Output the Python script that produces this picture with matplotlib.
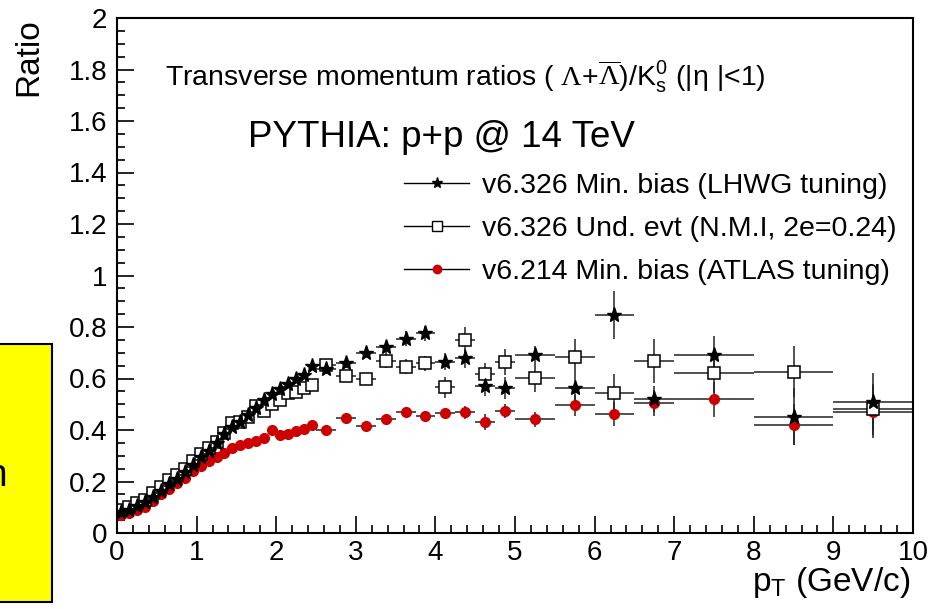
import matplotlib
matplotlib.use('Agg')
import matplotlib.pyplot as plt
from matplotlib.patches import Rectangle
from matplotlib.lines import Line2D
from matplotlib.ticker import MultipleLocator

plt.rcParams['font.family'] = ['Liberation Sans', 'DejaVu Sans']
plt.rcParams['mathtext.fontset'] = 'custom'
plt.rcParams['mathtext.rm'] = 'Liberation Serif'
plt.rcParams['mathtext.sf'] = 'Liberation Sans'
plt.rcParams['mathtext.it'] = 'Liberation Sans:italic'

# ---------------- data ----------------
pt = [0.05, 0.15, 0.25, 0.35, 0.45, 0.55, 0.65, 0.75, 0.85, 0.95,
      1.05, 1.15, 1.25, 1.35, 1.45, 1.55, 1.65, 1.75, 1.85, 1.95,
      2.05, 2.15, 2.25, 2.35, 2.45,
      2.625, 2.875, 3.125, 3.375, 3.625, 3.875, 4.125, 4.375, 4.625, 4.875,
      5.25, 5.75, 6.25, 6.75, 7.5, 8.5, 9.5]
pt_halfwidth = [0.05, 0.05, 0.05, 0.05, 0.05, 0.05, 0.05, 0.05, 0.05, 0.05,
                0.05, 0.05, 0.05, 0.05, 0.05, 0.05, 0.05, 0.05, 0.05, 0.05,
                0.05, 0.05, 0.05, 0.05, 0.05,
                0.125, 0.125, 0.125, 0.125, 0.125, 0.125, 0.125, 0.125, 0.125, 0.125,
                0.25, 0.25, 0.25, 0.25, 0.5, 0.5, 0.5]

lhwg = [0.08, 0.09, 0.105, 0.12, 0.14, 0.165, 0.19, 0.21, 0.235, 0.265,
        0.295, 0.32, 0.35, 0.385, 0.41, 0.43, 0.46, 0.485, 0.515, 0.54,
        0.56, 0.58, 0.60, 0.614, 0.648,
        0.635, 0.659, 0.70, 0.722, 0.755, 0.775, 0.665, 0.678, 0.571, 0.562,
        0.691, 0.562, 0.847, 0.519, 0.691, 0.452, 0.51]
lhwg_err = [0.006, 0.006, 0.006, 0.006, 0.007, 0.007, 0.007, 0.008, 0.008, 0.008,
            0.009, 0.009, 0.009, 0.01, 0.01, 0.011, 0.011, 0.012, 0.012, 0.013,
            0.013, 0.014, 0.014, 0.015, 0.016,
            0.018, 0.02, 0.022, 0.025, 0.028, 0.03, 0.033, 0.036, 0.04, 0.042,
            0.036, 0.05, 0.092, 0.05, 0.075, 0.11, 0.11]

und = [0.09, 0.10, 0.115, 0.13, 0.155, 0.18, 0.205, 0.225, 0.25, 0.28,
       0.305, 0.33, 0.355, 0.39, 0.428, 0.432, 0.45, 0.495, 0.475, 0.50,
       0.516, 0.545, 0.549, 0.562, 0.575,
       0.652, 0.61, 0.597, 0.668, 0.646, 0.659, 0.566, 0.75, 0.617, 0.663,
       0.601, 0.685, 0.542, 0.669, 0.623, 0.627, 0.48]
und_err = [0.007, 0.007, 0.007, 0.008, 0.008, 0.008, 0.009, 0.009, 0.01, 0.01,
           0.011, 0.011, 0.012, 0.012, 0.013, 0.013, 0.014, 0.014, 0.015, 0.015,
           0.016, 0.016, 0.017, 0.018, 0.018,
           0.02, 0.022, 0.024, 0.027, 0.03, 0.03, 0.04, 0.05, 0.045, 0.05,
           0.055, 0.07, 0.075, 0.085, 0.08, 0.1, 0.1]

atlas = [0.07, 0.078, 0.088, 0.10, 0.125, 0.15, 0.17, 0.193, 0.215, 0.24,
         0.262, 0.28, 0.295, 0.312, 0.33, 0.342, 0.35, 0.358, 0.368, 0.40,
         0.38, 0.386, 0.397, 0.402, 0.42,
         0.40, 0.445, 0.415, 0.443, 0.469, 0.454, 0.465, 0.469, 0.431, 0.473,
         0.441, 0.496, 0.462, 0.504, 0.519, 0.42, 0.47]
atlas_err = [0.004, 0.004, 0.004, 0.004, 0.004, 0.005, 0.005, 0.005, 0.005, 0.005,
             0.006, 0.006, 0.006, 0.006, 0.007, 0.007, 0.007, 0.007, 0.008, 0.008,
             0.008, 0.009, 0.009, 0.009, 0.01,
             0.012, 0.013, 0.014, 0.016, 0.02, 0.02, 0.022, 0.025, 0.03, 0.028,
             0.03, 0.04, 0.045, 0.05, 0.067, 0.08, 0.1]

labels = ['v6.326 Min. bias (LHWG tuning)',
          'v6.326 Und. evt (N.M.I, 2e=0.24)',
          'v6.214 Min. bias (ATLAS tuning)']

# ---------------- figure ----------------
fig = plt.figure(figsize=(9.45, 6.09), dpi=100)
W, H = 945, 609
ax = fig.add_axes([117 / W, 1 - 533 / H, (913 - 117) / W, (533 - 18) / H])

ebkw = dict(ls='none', ecolor='#222222', elinewidth=1.1, capsize=0, zorder=2)
ax.errorbar(pt, atlas, yerr=atlas_err, xerr=pt_halfwidth, marker='o', ms=7,
            mfc='#cc0000', mec='#cc0000', **ebkw)
ax.errorbar(pt, und, yerr=und_err, xerr=pt_halfwidth, marker='s', ms=8.5,
            mfc='white', mec='black', mew=1.1, **ebkw)
ax.errorbar(pt, lhwg, yerr=lhwg_err, xerr=pt_halfwidth, marker='*', ms=11,
            mfc='black', mec='black', **ebkw)

ax.set_xlim(0, 10)
ax.set_ylim(0, 2)
ax.xaxis.set_major_locator(MultipleLocator(1))
ax.xaxis.set_minor_locator(MultipleLocator(0.2))
ax.yaxis.set_major_locator(MultipleLocator(0.2))
ax.yaxis.set_minor_locator(MultipleLocator(0.05))
ax.set_yticks([0, 0.2, 0.4, 0.6, 0.8, 1, 1.2, 1.4, 1.6, 1.8, 2])
ax.set_yticklabels(['0', '0.2', '0.4', '0.6', '0.8', '1', '1.2', '1.4', '1.6', '1.8', '2'])
ax.tick_params(which='both', direction='in', top=False, right=False,
               labelsize=20, width=1.2, color='black')
ax.tick_params(which='major', length=12)
ax.tick_params(which='minor', length=6)
ax.tick_params(axis='y', pad=7)
ax.tick_params(axis='x', pad=5)
for s in ax.spines.values():
    s.set_linewidth(1.5)
    s.set_color('black')

# legend
handles = [
    Line2D([], [], color='black', lw=1, marker='*', ms=8, mfc='black', mec='black'),
    Line2D([], [], color='black', lw=1, marker='s', ms=7, mfc='white', mec='black'),
    Line2D([], [], color='black', lw=1, marker='o', ms=6, mfc='#cc0000', mec='#cc0000'),
]
fig.legend(handles, labels, loc='upper left', bbox_to_anchor=(404 / W, 1 - 173 / H),
           frameon=False, fontsize=20.5, handlelength=2.3, handletextpad=0.45,
           labelspacing=0.6, borderpad=0, borderaxespad=0)

# texts
fig.text(165 / W, 1 - 77 / H,
         r'Transverse momentum ratios ( $\Lambda$+$\overline{\Lambda}$)/K$_{\mathsf{s}}^{\mathsf{0}}$ (|$\mathsf{\eta}$ |<1)',
         fontsize=20.5, ha='left', va='center')
fig.text(248 / W, 1 - 137 / H, 'PYTHIA: p+p @ 14 TeV', fontsize=26.5, ha='left', va='center')
fig.text(29 / W, 1 - 57 / H, 'Ratio', rotation=90, fontsize=24, ha='center', va='center')
fig.text(910 / W, 1 - 582 / H, r'p$_{\mathsf{T}}$ (GeV/c)', fontsize=24, ha='right', va='center')

# yellow box at left edge
fig.patches.append(Rectangle((-5 / W, 1 - 602 / H), 57 / W, 258 / H,
                             transform=fig.transFigure, facecolor='#ffff00',
                             edgecolor='black', linewidth=1.5, zorder=0))
fig.text(7 / W, 1 - 476 / H, 'n', fontsize=28, ha='right', va='center')

fig.savefig('out.png', dpi=100)
